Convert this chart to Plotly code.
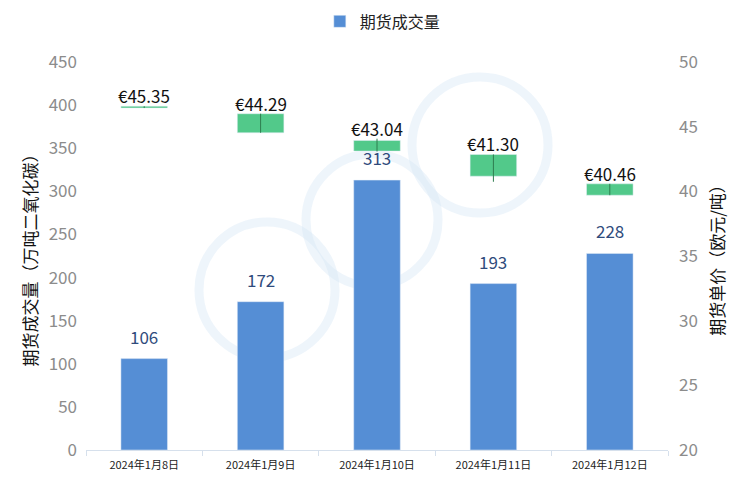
import plotly.graph_objects as go

dates = ["2024年1月8日", "2024年1月9日", "2024年1月10日", "2024年1月11日", "2024年1月12日"]
volume = [106, 172, 313, 193, 228]
price_labels = ["€45.35", "€44.29", "€43.04", "€41.30", "€40.46"]
open_p = [46.44, 44.53, 43.11, 42.85, 40.58]
close_p = [46.58, 46.00, 43.94, 41.17, 39.70]
high_p = [46.58, 46.00, 44.07, 42.85, 40.58]
low_p = [46.44, 44.53, 43.08, 40.74, 39.70]

FONT = "Noto Sans CJK SC, Microsoft YaHei, sans-serif"
BAR_BLUE = "#558ED5"
GREEN = "#52C98A"
WICK = "#2E7D4F"

# page body has an 8px margin; compensate so plot area lands at 86..668 x 62..450
L, T, PW, PH = 78, 54, 582, 388
W, H = 744, 483

fig = go.Figure()

fig.add_trace(go.Bar(
    x=dates, y=volume, name="期货成交量", marker_color=BAR_BLUE, width=0.4,
    yaxis="y",
))
for d, v in zip(dates, volume):
    fig.add_annotation(x=d, y=v, yref="y", text=str(v), showarrow=False,
                       yanchor="bottom", yshift=8,
                       font=dict(size=17, color="#2F4B7C", family=FONT))

box_base = [min(o, c) for o, c in zip(open_p, close_p)]
box_h = [abs(c - o) for o, c in zip(open_p, close_p)]
fig.add_trace(go.Bar(
    x=dates, y=box_h, base=box_base, marker_color=GREEN, width=0.4,
    showlegend=False, yaxis="y2", hoverinfo="skip",
))

wx, wy = [], []
for d, h, l in zip(dates, high_p, low_p):
    wx += [d, d, None]
    wy += [l, h, None]
fig.add_trace(go.Scatter(
    x=wx, y=wy, mode="lines", line=dict(color=WICK, width=1),
    showlegend=False, yaxis="y2", hoverinfo="skip",
))

for d, h, t in zip(dates, high_p, price_labels):
    fig.add_annotation(x=d, y=h, yref="y2", text=t, showarrow=False,
                       yanchor="bottom", yshift=-4,
                       font=dict(size=17, color="#111111", family=FONT))

# faint watermark circles (window pixel centres)
for cx, cy, r in [(267, 290, 68), (372, 220, 66), (480, 145, 68)]:
    x0 = (cx - r - 86) / PW
    x1 = (cx + r - 86) / PW
    y0 = (450 - (cy + r)) / PH
    y1 = (450 - (cy - r)) / PH
    fig.add_shape(type="circle", xref="paper", yref="paper",
                  x0=x0, x1=x1, y0=y0, y1=y1, layer="below",
                  line=dict(color="rgba(212,230,246,0.4)", width=9))

fig.update_layout(
    width=W, height=H,
    margin=dict(l=L, r=W - L - PW, t=T, b=H - T - PH, autoexpand=False),
    paper_bgcolor="white", plot_bgcolor="white",
    barmode="overlay",
    font=dict(family=FONT),
    showlegend=True,
    legend=dict(orientation="h", x=0.51, xanchor="center", y=0.937, yanchor="bottom",
                yref="container", font=dict(size=16, color="#222222", family=FONT)),
    xaxis=dict(
        type="category", showline=True, linecolor="#D6E0EC", linewidth=1,
        ticks="outside", tickson="boundaries", tickcolor="#D6E0EC", ticklen=5,
        ticklabelstandoff=5,
        tickfont=dict(size=11, color="#222222", family=FONT), showgrid=False,
    ),
    yaxis=dict(
        range=[0, 450], dtick=50, showgrid=False, showline=False, zeroline=False,
        ticklabelstandoff=8,
        tickfont=dict(size=17, color="#8C8C8C", family=FONT),
        title=dict(text="期货成交量（万吨二氧化碳）", font=dict(size=17, color="#111111", family=FONT), standoff=6),
    ),
    yaxis2=dict(
        range=[20, 50], dtick=5, overlaying="y", side="right", showgrid=False,
        showline=False, zeroline=False, ticklabelstandoff=10,
        tickfont=dict(size=17, color="#8C8C8C", family=FONT),
        title=dict(text="期货单价（欧元/吨）", font=dict(size=17, color="#111111", family=FONT), standoff=15),
    ),
)

fig.write_html("out.html")
